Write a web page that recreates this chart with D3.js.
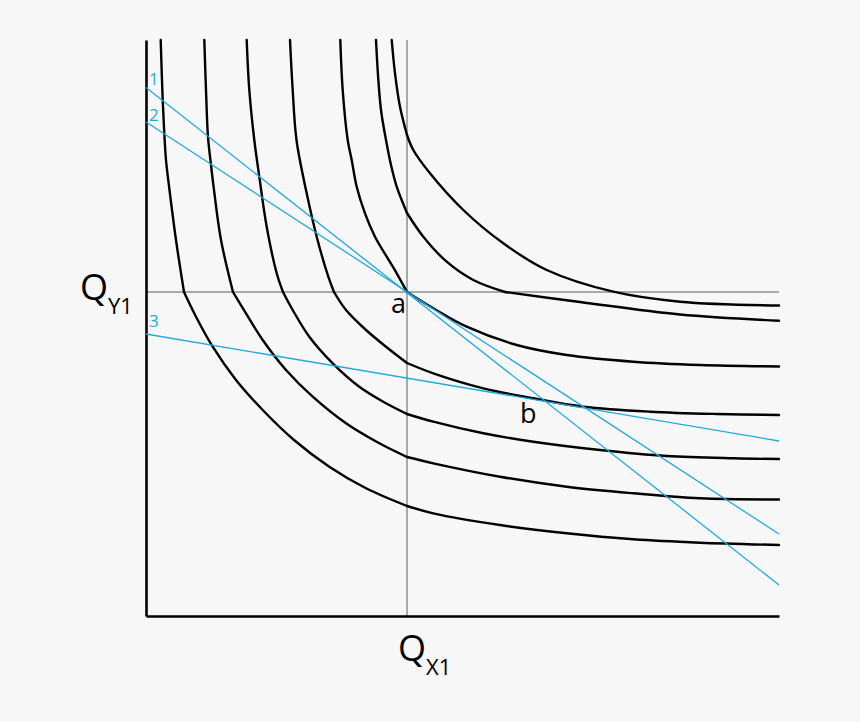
<!DOCTYPE html>
<html><head><meta charset="utf-8">
<script src="https://cdn.jsdelivr.net/npm/d3@7/dist/d3.min.js"></script>
<style>
html,body{margin:0;padding:0;background:#f7f7f7}
svg{display:block}
text{font-family:"Open Sans","Noto Sans",sans-serif}
</style>
</head><body>
<svg id="chart" width="860" height="722"></svg>
<script>
// ---- Data (arbitrary quantity units) ----
const xDomain = [0, 633];
const yDomain = [0, 576];
const QX1 = 261;
const QY1 = 324;

// Each isoquant = list of segments (kinked at QX1 / QY1)
const curve1 = [
  [[14.7,576],[16.7,516],[18.3,483],[20,456],[23.5,426],[30,376],[38,324]],
  [[38,324],[50,299.3],[66.7,269.3],[90,236],[116.7,206],[148,176],[183.3,149.3],[220,127.7],[261,110]],
  [[261,110],[287.3,102.7],[354,91],[420.7,82.7],[487.3,76.7],[554,73.3],[633,71]]
];
const curve2 = [
  [[58.3,576],[60,526],[62,479],[65,451],[68,426],[75,376],[87,324]],
  [[87,324],[100,302.7],[116.7,276],[140,246],[166.7,219.3],[200,192.7],[233.3,172.7],[261,159]],
  [[261,159],[287.3,152.7],[354,139.3],[420.7,129.3],[487.3,122.7],[554,117.7],[633,116.5]]
];
const curve3 = [
  [[100.7,576],[103.3,526],[108.3,476],[113.3,439.3],[120.7,389.3],[130.7,342.7],[137,324]],
  [[137,324],[146.7,306],[163.3,279.3],[186.7,252.7],[213.3,229.3],[240,212.7],[261,202]],
  [[261,202],[287.3,194.3],[337.3,182.7],[387.3,174.3],[454,166],[520.7,160],[587.3,157.7],[633,157]]
];
const curve4 = [
  [[144,576],[146.7,526],[150.5,476],[160.7,422.7],[170.7,379.3],[182.3,339.3],[188,324]],
  [[188,324],[200,306],[220,286],[240,269.3],[261,253]],
  [[261,253],[287.3,242.7],[337.3,227.7],[387.3,217.7],[437.3,209.3],[504,204.3],[570.7,202],[633,201]]
];
const curve5 = [
  [[194.3,576],[196.7,526],[201.7,476],[205.7,456],[210.7,429.3],[219,402.7],[229,379.3],[240.7,359.3],[250.7,342.7],[261,324]],
  [[261,324],[287.3,307.7],[320.7,289.3],[370.7,271],[420.7,261],[487.3,254.3],[554,251],[633,249.5]]
];
const curve6 = [
  [[230,576],[232,541],[235,506],[240,476],[245,451],[250.7,429.3],[261,403]],
  [[261,403],[277.3,379.3],[300.7,354.3],[327.3,336],[359,324]],
  [[359,324],[434,314],[534,301.5],[633,295.3]]
];
const curve7 = [
  [[245.7,576],[249,542.7],[254,509.3],[261,481]],
  [[261,481],[267.3,466],[284,442.7],[317.3,406],[357.3,372.7],[400.7,346],[467.3,324.3],[534,314.3],[633,310.5]]
];
const curves = [curve1, curve2, curve3, curve4, curve5, curve6, curve7];

// Budget / isocost lines: [start, end]
const line1 = [[0,528.5],[633,31]];
const line2 = [[0,494],[633,82]];
const line3 = [[0,282],[633,175]];
const budgetLines = [line1, line2, line3];
const budgetLabels = ["1", "2", "3"];

const pointA = [261, 324];
const pointB = [381, 211];
const pointLabels = ["a", "b"];

// ---- Drawing ----
const svg = d3.select("#chart");
const x = d3.scaleLinear().domain(xDomain).range([146, 779]);
const y = d3.scaleLinear().domain(yDomain).range([616, 40]);

// guide lines at QX1 / QY1
svg.append("line")
  .attr("x1", x(QX1)).attr("x2", x(QX1))
  .attr("y1", y(yDomain[0])).attr("y2", y(yDomain[1]))
  .attr("stroke", "#a9a9a9").attr("stroke-width", 2);
svg.append("line")
  .attr("x1", x(xDomain[0])).attr("x2", x(xDomain[1]))
  .attr("y1", y(QY1)).attr("y2", y(QY1))
  .attr("stroke", "#a9a9a9").attr("stroke-width", 2);

// axes (domain lines only)
const xAxis = svg.append("g").attr("transform", `translate(0,${y(0)})`)
  .call(d3.axisBottom(x).ticks(0).tickSize(0).tickSizeOuter(0));
const yAxis = svg.append("g").attr("transform", `translate(${x(0)},0)`)
  .call(d3.axisLeft(y).ticks(0).tickSize(0).tickSizeOuter(0));
[xAxis, yAxis].forEach(g => {
  g.selectAll(".tick").remove();
  g.select(".domain").attr("stroke", "#000").attr("stroke-width", 2.6);
});

// isoquants
const lineGen = d3.line()
  .x(d => x(d[0])).y(d => y(d[1]))
  .curve(d3.curveCatmullRom.alpha(0.5));
const cg = svg.append("g");
curves.forEach(c => {
  c.forEach(seg => {
    cg.append("path")
      .attr("d", lineGen(seg))
      .attr("fill", "none")
      .attr("stroke", "#000")
      .attr("stroke-width", 2.4)
      .attr("stroke-linecap", "round")
      .attr("stroke-linejoin", "round");
  });
});

// budget lines
const blue = "#1fa9e1";
const labelDy = [-3, -1, -7];
const straight = d3.line().x(d => x(d[0])).y(d => y(d[1]));
budgetLines.forEach((l, i) => {
  svg.append("path")
    .attr("d", straight(l))
    .attr("fill", "none")
    .attr("stroke", blue)
    .attr("stroke-width", 1.3);
  svg.append("text")
    .attr("x", x(l[0][0]) + 3)
    .attr("y", y(l[0][1]) + labelDy[i])
    .attr("fill", blue)
    .attr("font-size", 17)
    .text(budgetLabels[i]);
});

// point labels
svg.append("text")
  .attr("x", x(pointA[0]) - 16).attr("y", y(pointA[1]) + 21)
  .attr("font-size", 27).attr("fill", "#000")
  .text(pointLabels[0]);
svg.append("text")
  .attr("x", x(pointB[0]) - 7).attr("y", y(pointB[1]) + 18)
  .attr("font-size", 27).attr("fill", "#000")
  .text(pointLabels[1]);

// axis labels Q_Y1 and Q_X1
const qy = svg.append("text")
  .attr("x", 80).attr("y", y(QY1) + 8)
  .attr("font-size", 36).attr("fill", "#000");
qy.append("tspan").text("Q");
qy.append("tspan").attr("font-size", 22).attr("dy", 14).text("Y1");

const qx = svg.append("text")
  .attr("x", x(QX1) - 9).attr("y", 661)
  .attr("font-size", 36).attr("fill", "#000");
qx.append("tspan").text("Q");
qx.append("tspan").attr("font-size", 22).attr("dy", 14).text("X1");
</script>
</body></html>
